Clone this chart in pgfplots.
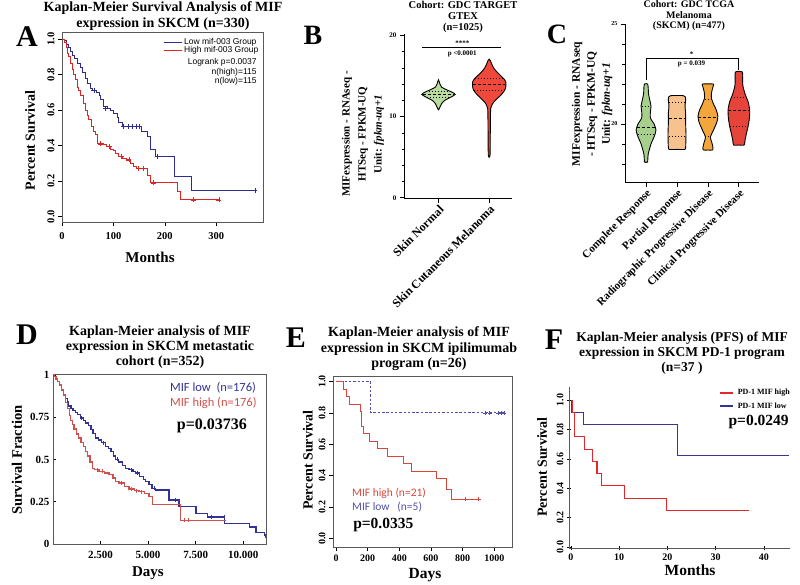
\documentclass[border=0pt]{standalone}
\usepackage{fontspec}
\setmainfont{Liberation Serif}
\newfontfamily\arialf{Liberation Sans}
\newfontfamily\calib{Carlito}
\usepackage{pgfplots}
\pgfplotsset{compat=1.18}
\definecolor{kmblue}{RGB}{45,45,145}
\definecolor{kmred}{RGB}{225,35,35}
\definecolor{dblue}{RGB}{50,50,150}
\definecolor{dred}{RGB}{210,80,75}
\definecolor{eblue}{RGB}{80,80,170}
\definecolor{ered}{RGB}{215,70,60}
\definecolor{fblue}{RGB}{55,55,145}
\definecolor{fred}{RGB}{225,40,45}
\definecolor{vgreenB}{RGB}{187,219,158}
\definecolor{vredB}{RGB}{240,72,58}
\definecolor{vgreenC}{RGB}{168,208,141}
\definecolor{vpeach}{RGB}{248,194,142}
\definecolor{vorange}{RGB}{242,166,60}
\definecolor{vredC}{RGB}{230,68,58}
\newcommand{\fs}[1]{\fontsize{#1}{#1}\selectfont}
\pgfplotsset{
  kmaxis/.style={scale only axis, anchor=south west, tick align=outside, tick pos=left,
    major tick length=4pt, tick style={black, line width=0.6pt},
    axis line style={line width=0.6pt},
    /pgf/number format/assume math mode=true,
    /pgf/number format/1000 sep={},
    scaled ticks=false},
  violin/.style={draw=black, line width=0.9pt, smooth, tension=0.4},
  med/.style={black, line width=1pt, dash pattern=on 3pt off 2pt},
  quart/.style={black, line width=0.9pt, dash pattern=on 1pt off 2pt},
}
\begin{document}
\begin{tikzpicture}
\useasboundingbox (0pt,0pt) rectangle (800pt,584pt);

% ---------------- Panel A ----------------
\begin{axis}[kmaxis, at={(62pt,362pt)}, width=201pt, height=190pt,
  xmin=0, xmax=391, ymin=-0.03, ymax=1.04,
  xtick={0,100,200,300}, ytick={0,0.2,0.4,0.6,0.8,1}, yticklabels={0.0,0.2,0.4,0.6,0.8,1.0},
  tick label style={font=\bfseries\fs{10.5}},
  x tick label style={yshift=-3pt},
  y tick label style={rotate=90, anchor=south},
  axis line style={gray!70!black},
  xlabel={Months}, ylabel={Percent Survival},
  xlabel style={font=\bfseries\fs{15}, at={(axis description cs:0.438,-0.184)}, anchor=center},
  ylabel style={font=\bfseries\fs{14}, at={(axis description cs:-0.159,0.43)}, anchor=center}]
\addplot[const plot, kmblue, line width=1pt] coordinates {
(0,1.0) (5,0.99) (8,0.97) (12,0.95) (16,0.93) (20,0.91) (25,0.89) (30,0.86) (36,0.84) (40,0.81)
(45,0.78) (49,0.75) (55,0.72) (60,0.71) (68,0.70) (72,0.68) (75,0.66) (81,0.62) (88,0.61) (94,0.60)
(100,0.58) (107,0.56) (110,0.53) (117,0.51) (155,0.48) (166,0.45) (172,0.376) (181,0.34) (219,0.225)
(251,0.148) (375,0.148)};
\addplot[const plot, kmred, line width=1pt] coordinates {
(0,1.0) (4,0.98) (8,0.95) (10,0.92) (13,0.90) (16,0.865) (20,0.83) (23,0.80) (26,0.77) (30,0.73)
(32,0.71) (36,0.68) (42,0.64) (46,0.60) (50,0.57) (52,0.545) (58,0.51) (62,0.48) (65,0.46) (70,0.41)
(80,0.405) (87,0.395) (95,0.38) (100,0.37) (105,0.355) (110,0.34) (118,0.33) (126,0.32) (133,0.30)
(139,0.28) (145,0.272) (166,0.23) (172,0.19) (224,0.142) (230,0.095) (308,0.095)};
\addplot[only marks, mark=+, mark size=2.5pt, kmblue] coordinates {
(62,0.71) (85,0.61) (120,0.51) (128,0.51) (136,0.51) (144,0.51) (150,0.51) (185,0.34) (375,0.148)};
\addplot[only marks, mark=+, mark size=2.5pt, kmred] coordinates {
(75,0.41) (92,0.395) (115,0.34) (130,0.32) (148,0.272) (158,0.272) (178,0.19) (255,0.095) (305,0.095)};
\draw[kmblue, line width=1pt] (rel axis cs:0.507,0.944) -- (rel axis cs:0.595,0.944);
\draw[kmred, line width=1pt] (rel axis cs:0.507,0.902) -- (rel axis cs:0.595,0.902);
\node[anchor=west, font=\arialf\fs{8.5}, inner sep=0] at (rel axis cs:0.607,0.944) {Low mif-003 Group};
\node[anchor=west, font=\arialf\fs{8.5}, inner sep=0] at (rel axis cs:0.607,0.902) {High mif-003 Group};
\node[anchor=east, font=\arialf\fs{8.5}, inner sep=0] at (rel axis cs:0.969,0.838) {Logrank p=0.0037};
\node[anchor=east, font=\arialf\fs{8.5}, inner sep=0] at (rel axis cs:0.969,0.788) {n(high)=115};
\node[anchor=east, font=\arialf\fs{8.5}, inner sep=0] at (rel axis cs:0.969,0.738) {n(low)=115};
\end{axis}

% ---------------- Panel B ----------------
\begin{axis}[scale only axis, anchor=south west, at={(404pt,385pt)}, width=108pt, height=165pt,
  xmin=-0.68, xmax=1.45, ymin=-0.15, ymax=20.2,
  axis lines=left, axis line style={-, line width=1pt},
  xtick={0,1}, xticklabels={Skin Normal,Skin Cutaneous Melanoma},
  ytick={0,10,20}, minor ytick={2,4,6,8,12,14,16,18},
  tick align=outside, major tick length=4pt, minor tick length=2.5pt, tick style={black, line width=0.8pt},
  x tick label style={rotate=45, anchor=north east, font=\bfseries\fs{12}, inner sep=1pt},
  y tick label style={font=\bfseries\fs{7}},
  /pgf/number format/assume math mode=true,
  ylabel={MIFexpression - RNAseq -\\HTSeq - FPKM-UQ\\Unit: \textit{fpkm-uq+1}},
  ylabel style={font=\bfseries\fontsize{11}{16}\selectfont, align=center, at={(axis description cs:-0.38,0.394)}, anchor=center}]
\addplot[violin, fill=vgreenB] coordinates {
(0,10.8) (0.03,11.2) (0.06,11.6) (0.12,12.0) (0.24,12.4) (0.33,12.75) (0.26,13.05) (0.15,13.35) (0.06,13.65) (0.03,14.0) (0,14.55)
(-0.03,14.0) (-0.06,13.65) (-0.15,13.35) (-0.26,13.05) (-0.33,12.75) (-0.24,12.4) (-0.12,12.0) (-0.06,11.6) (-0.03,11.2) (0,10.8)};
\addplot[med] coordinates {(-0.31,12.75) (0.31,12.75)};
\addplot[quart] coordinates {(-0.22,12.4) (0.22,12.4)};
\addplot[quart] coordinates {(-0.24,13.1) (0.24,13.1)};
\addplot[violin, fill=vredB] coordinates {
(1,5.0) (1.018,5.3) (1.022,8) (1.025,10) (1.03,11.0) (1.05,11.4) (1.09,11.8) (1.17,12.3) (1.25,12.8) (1.31,13.3) (1.33,13.8) (1.33,14.2) (1.30,14.6) (1.22,15.1) (1.14,15.6) (1.09,16.0) (1.05,16.5) (1.025,16.9) (1,17.1)
(0.975,16.9) (0.95,16.5) (0.91,16.0) (0.86,15.6) (0.78,15.1) (0.70,14.6) (0.67,14.2) (0.67,13.8) (0.69,13.3) (0.75,12.8) (0.83,12.3) (0.91,11.8) (0.95,11.4) (0.97,11.0) (0.975,10) (0.978,8) (0.982,5.3) (1,5.0)};
\addplot[med] coordinates {(0.68,14.0) (1.32,14.0)};
\addplot[quart] coordinates {(0.70,13.2) (1.30,13.2)};
\addplot[quart] coordinates {(0.72,14.75) (1.28,14.75)};
\addplot[black, line width=0.9pt] coordinates {(-0.33,18.6) (1.24,18.6)};
\node[font=\bfseries\fs{7}] at (axis cs:0.47,19.1) {****};
\node[font=\bfseries\fs{7}] at (axis cs:0.47,17.8) {p <0.0001};
\end{axis}

% ---------------- Panel C ----------------
\begin{axis}[scale only axis, anchor=south west, at={(625pt,401pt)}, width=134pt, height=159pt,
  xmin=-0.68, xmax=3.65, ymin=17.05, ymax=25,
  axis lines=left, axis line style={-, line width=1pt},
  xtick={0,1,2,3}, xticklabels={Complete Response,Partial Response,Radiographic Progressive Disease,Clinical Progressive Disease},
  ytick={20,25}, minor ytick={18,19,21,22,23,24},
  tick align=outside, major tick length=4pt, minor tick length=3pt, tick style={black, line width=0.8pt},
  x tick label style={rotate=45, anchor=north east, font=\bfseries\fs{11}, inner sep=1pt},
  y tick label style={font=\bfseries\fs{6}},
  /pgf/number format/assume math mode=true,
  ylabel={MIFexpression - RNAseq\\- HTSeq - FPKM-UQ\\Unit: \textit{fpkm-uq+1}},
  ylabel style={font=\bfseries\fontsize{11.5}{15}\selectfont, align=center, at={(axis description cs:-0.246,0.497)}, anchor=center}]
\addplot[violin, fill=vgreenC] coordinates {
(0,18.1) (0.05,18.1) (0.07,18.5) (0.16,19.0) (0.27,19.4) (0.32,19.7) (0.26,20.0) (0.14,20.3) (0.14,20.6) (0.16,20.9) (0.12,21.2) (0.08,21.5) (0.07,21.8) (0.05,22.0)
(-0.05,22.0) (-0.07,21.8) (-0.08,21.5) (-0.12,21.2) (-0.16,20.9) (-0.14,20.6) (-0.14,20.3) (-0.26,20.0) (-0.32,19.7) (-0.27,19.4) (-0.16,19.0) (-0.07,18.5) (-0.05,18.1) (0,18.1)};
\addplot[med] coordinates {(-0.28,19.83) (0.28,19.83)};
\addplot[quart] coordinates {(-0.27,19.5) (0.27,19.5)};
\addplot[quart] coordinates {(-0.14,20.87) (0.14,20.87)};
\addplot[violin, fill=vpeach] coordinates {
(1,18.73) (1.25,18.73) (1.28,18.85) (1.29,19.5) (1.28,20.0) (1.28,20.5) (1.26,20.9) (1.28,21.2) (1.27,21.35) (1.2,21.42)
(0.8,21.42) (0.73,21.35) (0.72,21.2) (0.74,20.9) (0.72,20.5) (0.72,20.0) (0.71,19.5) (0.72,18.85) (0.75,18.73) (1,18.73)};
\addplot[med] coordinates {(0.73,20.28) (1.27,20.28)};
\addplot[quart] coordinates {(0.75,21.07) (1.25,21.07)};
\addplot[quart] coordinates {(0.75,19.37) (1.25,19.37)};
\addplot[violin, fill=vorange] coordinates {
(2,18.7) (2.15,18.7) (2.16,18.85) (2.12,19.1) (2.08,19.35) (2.18,19.7) (2.29,20.1) (2.32,20.4) (2.27,20.7) (2.18,21.0) (2.11,21.3) (2.12,21.6) (2.17,21.9) (2.17,22.0)
(1.83,22.0) (1.83,21.9) (1.88,21.6) (1.89,21.3) (1.82,21.0) (1.73,20.7) (1.68,20.4) (1.71,20.1) (1.82,19.7) (1.92,19.35) (1.88,19.1) (1.84,18.85) (1.85,18.7) (2,18.7)};
\addplot[med] coordinates {(1.69,20.3) (2.31,20.3)};
\addplot[quart] coordinates {(1.9,21.25) (2.1,21.25)};
\addplot[quart] coordinates {(1.92,19.4) (2.08,19.4)};
\addplot[violin, fill=vredC] coordinates {
(3,18.95) (3.17,18.95) (3.2,19.2) (3.24,19.5) (3.3,19.9) (3.34,20.3) (3.35,20.7) (3.3,21.1) (3.2,21.5) (3.13,21.9) (3.12,22.2) (3.11,22.6)
(2.89,22.6) (2.88,22.2) (2.87,21.9) (2.8,21.5) (2.7,21.1) (2.65,20.7) (2.66,20.3) (2.7,19.9) (2.76,19.5) (2.8,19.2) (2.83,18.95) (3,18.95)};
\addplot[med] coordinates {(2.65,20.67) (3.35,20.67)};
\addplot[quart] coordinates {(2.76,21.33) (3.24,21.33)};
\addplot[quart] coordinates {(2.71,19.87) (3.29,19.87)};
\addplot[black, line width=0.9pt] coordinates {(0,22.2) (0,23.3) (3,23.3) (3,22.7)};
\node[font=\bfseries\fs{7}] at (axis cs:1.47,23.5) {*};
\node[font=\bfseries\fs{7}] at (axis cs:1.47,22.98) {p = 0.039};
\end{axis}

% ---------------- Panel D ----------------
\begin{axis}[kmaxis, at={(53pt,40pt)}, width=213pt, height=170pt,
  tick align=inside, major tick length=3pt,
  xmin=0, xmax=11200, ymin=0, ymax=1.005,
  xtick={2500,5000,7500,10000}, xticklabels={2.500,5.000,7.500,10.000},
  ytick={0,0.25,0.5,0.75,1}, yticklabels={0,0.25,0.5,0.75,1},
  tick label style={font=\bfseries\fs{11}},
  x tick label style={yshift=-4pt},
  axis line style={gray!70!black},
  xlabel={Days}, ylabel={Survival Fraction},
  xlabel style={font=\bfseries\fs{15}, at={(axis description cs:0.446,-0.17)}, anchor=center},
  ylabel style={font=\bfseries\fs{14.5}, at={(axis description cs:-0.169,0.494)}, anchor=center}]
\addplot[const plot, dblue, line width=1.3pt] coordinates {
(0,1.0) (80,0.99) (150,0.975) (250,0.96) (350,0.94) (450,0.91) (550,0.885) (650,0.86) (750,0.84) (832,0.815)
(950,0.80) (1050,0.79) (1183,0.776) (1300,0.765) (1450,0.745) (1600,0.73) (1710,0.716) (1850,0.70) (2000,0.675)
(2100,0.655) (2238,0.627) (2400,0.615) (2550,0.60) (2765,0.578) (2900,0.565) (3050,0.545) (3180,0.52) (3293,0.50)
(3450,0.485) (3650,0.465) (3820,0.448) (4000,0.44) (4200,0.43) (4347,0.42) (4550,0.40) (4750,0.38) (4875,0.37)
(5050,0.35) (5200,0.33) (5402,0.32) (6106,0.26) (6633,0.22) (7512,0.18) (8127,0.16) (9006,0.12) (10325,0.10)
(10676,0.07) (11116,0.05) (11200,0.05)};
\addplot[const plot, dred, line width=1.3pt] coordinates {
(0,1.0) (80,0.99) (150,0.975) (250,0.96) (350,0.94) (450,0.91) (550,0.88) (656,0.835) (750,0.80) (850,0.76)
(930,0.73) (1007,0.706) (1100,0.68) (1230,0.65) (1359,0.627) (1480,0.60) (1600,0.575) (1710,0.548) (1830,0.52)
(1950,0.485) (2062,0.448) (2200,0.44) (2414,0.43) (2700,0.42) (2941,0.41) (3150,0.39) (3300,0.37) (3469,0.36)
(3750,0.34) (3996,0.326) (4300,0.315) (4523,0.31) (4800,0.30) (5051,0.28) (5227,0.234) (6686,0.14) (9094,0.14)};
\addplot[only marks, mark=|, mark size=2pt, dblue] coordinates {
(1500,0.745) (2650,0.60) (3400,0.50) (4100,0.44) (4450,0.42) (5300,0.33) (6400,0.26) (8300,0.16) (9000,0.16) (11150,0.05)};
\addplot[only marks, mark=|, mark size=2pt, dred] coordinates {
(2300,0.44) (2600,0.43) (3600,0.36) (4100,0.326) (4400,0.315) (4650,0.31) (6900,0.14) (7100,0.14)};
\node[anchor=west, font=\calib\fs{12.5}, text=dblue, inner sep=0] at (rel axis cs:0.549,0.918) {MIF low\ \ (n=176)};
\node[anchor=west, font=\calib\fs{12.5}, text=dred, inner sep=0] at (rel axis cs:0.549,0.829) {MIF high (n=176)};
\node[font=\bfseries\fs{16}, inner sep=0] at (rel axis cs:0.746,0.694) {p=0.03736};
\end{axis}

% ---------------- Panel E ----------------
\begin{axis}[kmaxis, at={(333pt,37pt)}, width=179pt, height=171pt,
  xmin=-19, xmax=1112, ymin=-0.055, ymax=1.036,
  xtick={0,200,400,600,800,1000}, ytick={0,0.2,0.4,0.6,0.8,1}, yticklabels={0.0,0.2,0.4,0.6,0.8,1.0},
  tick label style={font=\bfseries\fs{10}},
  y tick label style={rotate=90, anchor=south},
  axis line style={gray!70!black},
  xlabel={Days}, ylabel={Percent Survival},
  xlabel style={font=\bfseries\fs{15.5}, at={(axis description cs:0.514,-0.164)}, anchor=center},
  ylabel style={font=\bfseries\fs{14}, at={(axis description cs:-0.14,0.509)}, anchor=center}]
\addplot[const plot, eblue, line width=1pt, dash pattern=on 2.5pt off 1.8pt] coordinates {(0,1.0) (219,0.8) (1076,0.8)};
\addplot[const plot, ered, line width=1pt] coordinates {
(0,1.0) (50,0.952) (68,0.905) (85,0.857) (152,0.810) (158,0.762) (164,0.714) (172,0.667) (213,0.619) (265,0.571)
(328,0.524) (425,0.476) (478,0.429) (636,0.381) (697,0.31) (729,0.25) (905,0.25)};
\addplot[only marks, mark=+, mark size=2pt, eblue] coordinates {(940,0.8) (970,0.8) (1022,0.8) (1043,0.8) (1064,0.8)};
\addplot[only marks, mark=+, mark size=2pt, ered] coordinates {(819,0.25) (901,0.25)};
\node[anchor=west, font=\calib\fs{11.5}, text=ered, inner sep=0] at (rel axis cs:0.106,0.316) {MIF high (n=21)};
\node[anchor=west, font=\calib\fs{11.5}, text=eblue, inner sep=0] at (rel axis cs:0.106,0.234) {MIF low\ \ \ (n=5)};
\node[anchor=west, font=\bfseries\fs{15.5}, inner sep=0] at (rel axis cs:0.112,0.129) {p=0.0335};
\end{axis}

% ---------------- Panel F ----------------
\begin{axis}[kmaxis, at={(569pt,36pt)}, width=221pt, height=161pt,
  xmin=-0.4, xmax=45.4, ymin=-0.007, ymax=1.09,
  axis lines=left, axis line style={-, gray!70!black},
  xtick={0,10,20,30,40}, ytick={0,0.2,0.4,0.6,0.8,1}, yticklabels={0.0,0.2,0.4,0.6,0.8,1.0},
  tick label style={font=\bfseries\fs{10}},
  y tick label style={rotate=90, anchor=south},
  xlabel={Months}, ylabel={Percent Survival},
  xlabel style={font=\bfseries\fs{15.5}, at={(axis description cs:0.548,-0.137)}, anchor=center},
  ylabel style={font=\bfseries\fs{14}, at={(axis description cs:-0.122,0.503)}, anchor=center}]
\addplot[const plot, fblue, line width=1.1pt] coordinates {(0,1.0) (0.2,0.917) (2.6,0.833) (22.1,0.625) (45.2,0.625)};
\addplot[const plot, fred, line width=1.1pt] coordinates {
(0,1.0) (0.35,0.917) (0.7,0.75) (2.9,0.667) (4.4,0.583) (5.4,0.5) (6.4,0.417) (11.1,0.333) (19.8,0.25) (36.9,0.25)};
\draw[fred, line width=1.1pt] (rel axis cs:0.683,0.963) -- (rel axis cs:0.742,0.963);
\draw[fblue, line width=1.1pt] (rel axis cs:0.683,0.882) -- (rel axis cs:0.742,0.882);
\node[anchor=west, font=\bfseries\fs{8}, inner sep=0] at (rel axis cs:0.763,0.963) {PD-1 MIF high};
\node[anchor=west, font=\bfseries\fs{8}, inner sep=0] at (rel axis cs:0.763,0.882) {PD-1 MIF low};
\node[anchor=east, font=\bfseries\fs{15.5}, inner sep=0] at (rel axis cs:0.995,0.783) {p=0.0249};
\end{axis}

% ---------------- Titles and panel letters ----------------
\node[align=center, font=\bfseries\fontsize{14}{16}\selectfont] at (163pt,568pt) {Kaplan-Meier Survival Analysis of MIF\\expression in SKCM (n=330)};
\node[align=center, font=\bfseries\fontsize{10.5}{11}\selectfont] at (463pt,567.5pt) {Cohort: GDC TARGET\\GTEX\\(n=1025)};
\node[align=center, font=\bfseries\fontsize{10}{10.5}\selectfont] at (689pt,568pt) {Cohort: GDC TCGA\\Melanoma\\(SKCM) (n=477)};
\node[align=center, font=\bfseries\fontsize{14}{15}\selectfont] at (160pt,237pt) {Kaplan-Meier analysis of MIF\\expression in SKCM metastatic\\cohort (n=352)};
\node[align=center, font=\bfseries\fontsize{14}{15.5}\selectfont] at (419pt,235.3pt) {Kaplan-Meier analysis of MIF\\expression in SKCM ipilimumab\\program (n=26)};
\node[align=center, font=\bfseries\fontsize{13.5}{15}\selectfont] at (682pt,231.3pt) {Kaplan-Meier analysis (PFS) of MIF\\expression in SKCM PD-1 program\\(n=37 )};
\node[font=\bfseries\fs{30}, inner sep=0] at (27pt,547.3pt) {A};
\node[font=\bfseries\fs{28}, inner sep=0] at (313pt,548.2pt) {B};
\node[font=\bfseries\fs{28}, inner sep=0] at (557pt,550pt) {C};
\node[font=\bfseries\fs{30}, inner sep=0] at (27pt,249pt) {D};
\node[font=\bfseries\fs{30}, inner sep=0] at (296pt,246pt) {E};
\node[font=\bfseries\fs{30}, inner sep=0] at (554pt,244pt) {F};
\end{tikzpicture}
\end{document}
